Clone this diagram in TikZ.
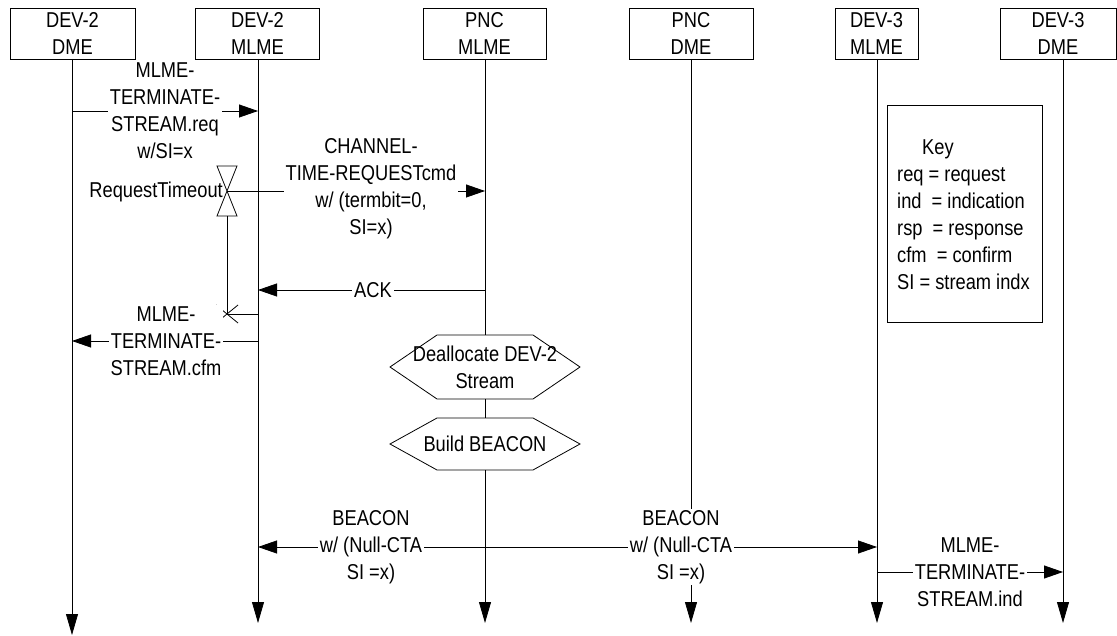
\documentclass[tikz,border=0pt]{standalone}
\usepackage{fontspec}
\setmainfont{Liberation Sans}[FakeStretch=0.85]
\usetikzlibrary{arrows.meta}
\tikzset{
  txt/.style={font=\fontsize{21.5}{27}\selectfont, align=center},
  headbox/.style={txt, draw, line width=0.8pt, minimum height=51pt, inner sep=0pt},
  life/.style={line width=0.8pt, -{Triangle[length=21pt,width=12pt]}},
  plain/.style={line width=0.8pt},
  msg/.style={line width=0.8pt, -{Triangle[length=19pt,width=13pt]}},
  lbl/.style={txt, fill=white, inner xsep=2pt, inner ysep=1pt},
}
\begin{document}
\begin{tikzpicture}[x=1pt,y=-1pt]
\useasboundingbox (0,0) rectangle (1117,636);

% header boxes
\node[headbox, minimum width=125pt] (b1) at (72.5,33.5) {DEV-2\\DME};
\node[headbox, minimum width=124pt] (b2) at (257.5,33.5) {DEV-2\\MLME};
\node[headbox, minimum width=123pt] (b3) at (484.5,33.5) {PNC\\MLME};
\node[headbox, minimum width=124pt] (b4) at (691,33.5) {PNC\\DME};
\node[headbox, minimum width=83pt] (b5) at (876.5,33.5) {DEV-3\\MLME};
\node[headbox, minimum width=116pt] (b6) at (1058,33.5) {DEV-3\\DME};

% lifeline points
\coordinate (t1) at (72,59);   \coordinate (e1) at (72,635);
\coordinate (t2) at (258,59);  \coordinate (e2) at (258,623);
\coordinate (t3) at (485,59);  \coordinate (e3) at (485,623);
\coordinate (t4) at (691,59);  \coordinate (e4) at (691,623);
\coordinate (t5) at (877,59);  \coordinate (e5) at (877,623);
\coordinate (t6) at (1063,59); \coordinate (e6) at (1063,623);
\coordinate (h1t) at (485,335); \coordinate (h1b) at (485,399);
\coordinate (h2t) at (485,418); \coordinate (h2b) at (485,470);

\draw[life] (t1) -- (e1);
\draw[life] (t2) -- (e2);
\draw[plain] (t3) -- (h1t);
\draw[plain] (h1b) -- (h2t);
\draw[life] (h2b) -- (e3);
\draw[life] (t4) -- (e4);
\draw[life] (t5) -- (e5);
\draw[life] (t6) -- (e6);

% hexagons
\draw[plain] (390,367) -- (437,335) -- (533,335) -- (580,367) -- (533,399) -- (437,399) -- cycle;
\node[txt] (hx1) at (485,367) {Deallocate DEV-2\\Stream};
\draw[plain] (390,444) -- (437,418) -- (533,418) -- (580,444) -- (533,470) -- (437,470) -- cycle;
\node[txt] (hx2) at (485,444) {Build BEACON};

% timer
\draw[plain] (217,166) -- (237,166) -- (217,216) -- (237,216) -- cycle;
\coordinate (tw) at (227,191);
\coordinate (tb) at (227,216);
\coordinate (tx) at (227,314);
\draw[plain] (tb) -- (tx);
\draw[plain] (216,305) -- (238,323);
\draw[plain] (216,323) -- (238,305);
\coordinate (a2x) at (258,314);
\draw[plain] (tx) -- (a2x);
\node[txt, anchor=east, inner sep=0pt] (rt) at (223,192) {RequestTimeout};

% message points
\coordinate (m1a) at (72,111);  \coordinate (m1b) at (258,111);
\coordinate (m2b) at (485,191);
\coordinate (m3a) at (485,290); \coordinate (m3b) at (258,290);
\coordinate (m4a) at (258,341); \coordinate (m4b) at (72,341);
\coordinate (m5a) at (485,547); \coordinate (m5b) at (258,547); \coordinate (m6b) at (877,547);
\coordinate (m7a) at (877,572); \coordinate (m7b) at (1063,572);

\draw[msg] (m1a) -- (m1b);
\draw[msg] (tw) -- (m2b);
\draw[msg] (m3a) -- (m3b);
\draw[msg] (m4a) -- (m4b);
\draw[msg] (m5a) -- (m5b);
\draw[msg] (m5a) -- (m6b);
\draw[msg] (m7a) -- (m7b);

% labels
\node[lbl] (l1) at (165,111) {MLME-\\TERMINATE-\\STREAM.req\\w/SI=x};
\node[lbl] (l2) at (371,189) {CHANNEL-\\TIME-REQUESTcmd\\w/ (termbit=0,\\SI=x)};
\node[lbl] (l3) at (373,290) {ACK};
\node[lbl] (l4) at (166,341) {MLME-\\TERMINATE-\\STREAM.cfm};
\node[lbl] (l5) at (371,547) {BEACON\\w/ (Null-CTA\\SI =x)};
\node[lbl] (l6) at (681,547) {BEACON\\w/ (Null-CTA\\SI =x)};
\node[lbl] (l7) at (970,572) {MLME-\\TERMINATE-\\STREAM.ind};

% key
\draw[plain] (887,105) rectangle (1042,322);
\node[txt, align=left, anchor=west, inner sep=0pt] (key) at (897,215) {\hspace*{25pt}Key\\req = request\\ind\ \ = indication\\rsp\ \ = response\\cfm\ \ = confirm\\SI = stream indx};
\end{tikzpicture}
\end{document}
